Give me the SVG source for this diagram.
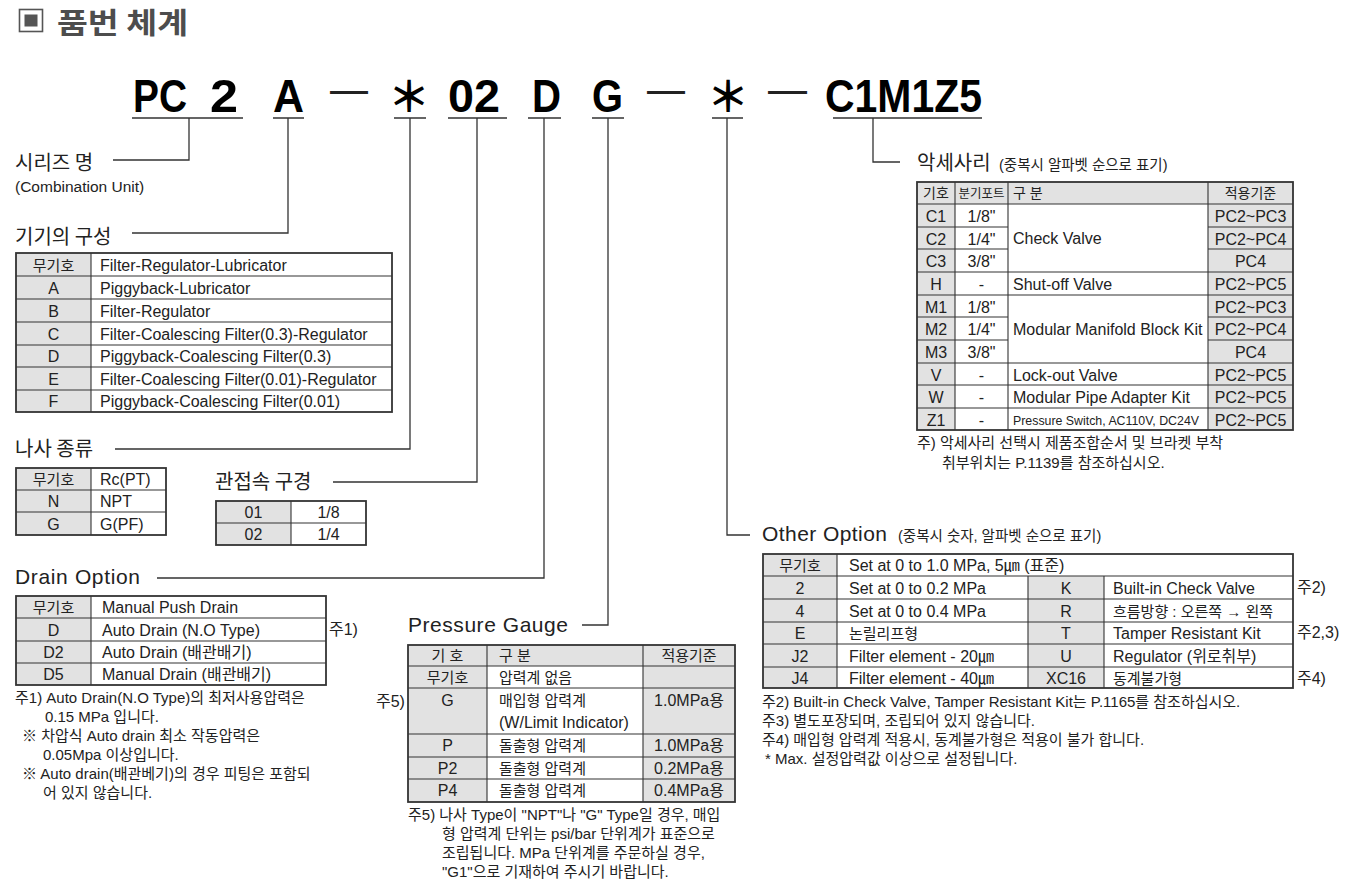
<svg xmlns="http://www.w3.org/2000/svg" width="1367" height="896" viewBox="0 0 1367 896">
<style>
text{font-family:"Liberation Sans","Noto Sans CJK KR",sans-serif;fill:#222}
.code{font-size:47px;font-weight:bold;fill:#000}
.dash{font-size:47px;font-weight:normal;fill:#222}
.ast{font-family:"Noto Sans CJK KR",sans-serif;font-size:42px;font-weight:bold;fill:#000;text-anchor:middle}
.h{font-size:20px;font-family:"Noto Sans CJK KR",sans-serif}
.he{font-size:21px}
.s{font-size:15px}
.t{font-size:16px}
.tk{font-size:15px}
.c{text-anchor:middle}
.g{fill:#e2e2e2}
.box{fill:none;stroke:#333;stroke-width:1.8}
.ln{fill:none;stroke:#333;stroke-width:1.1}
</style>
<rect width="1367" height="896" fill="#fff"/>

<g id="title">
<rect x="19.5" y="9.5" width="23" height="22" fill="#fff" stroke="#555" stroke-width="1.6"/>
<rect x="24.5" y="14.5" width="13" height="12" fill="#555"/>
<text x="57" y="34" textLength="131" lengthAdjust="spacingAndGlyphs" style="font-family:'Noto Sans CJK KR',sans-serif;font-size:29px;font-weight:bold;fill:#4d4d4d">품번 체계</text>
</g>

<g id="code">
<text class="code" x="133" y="112" textLength="54" lengthAdjust="spacingAndGlyphs">PC</text>
<text class="code" x="210" y="112" textLength="28" lengthAdjust="spacingAndGlyphs">2</text>
<text class="code" x="273" y="112" textLength="31" lengthAdjust="spacingAndGlyphs">A</text>
<text class="dash" x="330" y="104" textLength="38" lengthAdjust="spacingAndGlyphs">—</text>
<text class="ast" x="409" y="112">＊</text>
<text class="code" x="448" y="112" textLength="52" lengthAdjust="spacingAndGlyphs">02</text>
<text class="code" x="532" y="112" textLength="29" lengthAdjust="spacingAndGlyphs">D</text>
<text class="code" x="592" y="112" textLength="31" lengthAdjust="spacingAndGlyphs">G</text>
<text class="dash" x="647" y="104" textLength="38" lengthAdjust="spacingAndGlyphs">—</text>
<text class="ast" x="728" y="112">＊</text>
<text class="dash" x="768" y="104" textLength="39" lengthAdjust="spacingAndGlyphs">—</text>
<text class="code" x="825" y="112" textLength="157" lengthAdjust="spacingAndGlyphs">C1M1Z5</text>
</g>

<g id="connectors" fill="none" stroke="#333" stroke-width="1.3">
<path d="M132 118H243M189 118V160H113"/>
<path d="M273 118H304M288 118V233H132"/>
<path d="M394 118H426M410 118V449H115"/>
<path d="M448 118H507M477 118V482H333"/>
<path d="M528 118H561M544 118V578H157"/>
<path d="M592 118H624M608 118V625H582"/>
<path d="M712 118H743M727 118V535H750"/>
<path d="M833 118H982M873 118V162H900"/>
</g>

<g id="series">
<text class="h" x="15" y="170">시리즈 명</text>
<text x="15" y="192" style="font-size:15.5px">(Combination Unit)</text>
</g>

<g id="config">
<text class="h" x="15" y="244">기기의 구성</text>
<rect class="g" x="16" y="253" width="75" height="159"/>
<path class="ln" d="M16 276H392M16 299H392M16 322H392M16 345H392M16 367H392M16 390H392M91 253V412"/>
<rect class="box" x="16" y="253" width="376" height="159"/>
<g class="t">
<text class="c tk" x="53.5" y="270.5">무기호</text><text x="100" y="270.5">Filter-Regulator-Lubricator</text>
<text class="c" x="53.5" y="293.5">A</text><text x="100" y="293.5">Piggyback-Lubricator</text>
<text class="c" x="53.5" y="316.5">B</text><text x="100" y="316.5">Filter-Regulator</text>
<text class="c" x="53.5" y="339.5">C</text><text x="100" y="339.5">Filter-Coalescing Filter(0.3)-Regulator</text>
<text class="c" x="53.5" y="362">D</text><text x="100" y="362">Piggyback-Coalescing Filter(0.3)</text>
<text class="c" x="53.5" y="384.5">E</text><text x="100" y="384.5">Filter-Coalescing Filter(0.01)-Regulator</text>
<text class="c" x="53.5" y="407">F</text><text x="100" y="407">Piggyback-Coalescing Filter(0.01)</text>
</g>
</g>

<g id="thread">
<text class="h" x="15" y="456">나사 종류</text>
<rect class="g" x="16" y="468" width="75" height="67"/>
<path class="ln" d="M16 490H166M16 512H166M91 468V535"/>
<rect class="box" x="16" y="468" width="150" height="67"/>
<g class="t">
<text class="c tk" x="53.5" y="485">무기호</text><text x="100" y="485">Rc(PT)</text>
<text class="c" x="53.5" y="507">N</text><text x="100" y="507">NPT</text>
<text class="c" x="53.5" y="529.5">G</text><text x="100" y="529.5">G(PF)</text>
</g>
</g>

<g id="port">
<text class="h" x="215" y="489">관접속 구경</text>
<rect class="g" x="216" y="501" width="75" height="44"/>
<path class="ln" d="M216 523H366M291 501V545"/>
<rect class="box" x="216" y="501" width="150" height="44"/>
<g class="t">
<text class="c" x="253.5" y="518">01</text><text class="c" x="328.5" y="518">1/8</text>
<text class="c" x="253.5" y="540">02</text><text class="c" x="328.5" y="540">1/4</text>
</g>
</g>

<g id="drain">
<text class="he" x="15" y="584" textLength="125" lengthAdjust="spacing">Drain Option</text>
<rect class="g" x="16" y="596" width="75" height="89"/>
<path class="ln" d="M16 618H326M16 641H326M16 663H326M91 596V685"/>
<rect class="box" x="16" y="596" width="310" height="89"/>
<g class="t">
<text class="c tk" x="53.5" y="613">무기호</text><text x="102" y="613">Manual Push Drain</text>
<text class="c" x="53.5" y="635.5">D</text><text x="102" y="635.5">Auto Drain (N.O Type)</text>
<text class="c" x="53.5" y="658">D2</text><text x="102" y="658">Auto Drain (배관배기)</text>
<text class="c" x="53.5" y="680">D5</text><text x="102" y="680">Manual Drain (배관배기)</text>
</g>
<text class="t" x="329" y="635">주1)</text>
<g class="s">
<text x="15" y="703">주1) Auto Drain(N.O Type)의 최저사용압력은</text>
<text x="45" y="722">0.15 MPa 입니다.</text>
<text x="22" y="741">※ 차압식 Auto drain 최소 작동압력은</text>
<text x="43" y="760">0.05Mpa 이상입니다.</text>
<text x="22" y="779">※ Auto drain(배관베기)의 경우 피팅은 포함되</text>
<text x="43" y="798">어 있지 않습니다.</text>
</g>
</g>

<g id="gauge">
<text class="he" x="408" y="632" textLength="160" lengthAdjust="spacing">Pressure Gauge</text>
<rect class="g" x="408" y="645" width="327" height="21"/>
<rect class="g" x="408" y="666" width="79" height="136"/>
<rect class="g" x="643" y="666" width="92" height="136"/>
<path class="ln" d="M408 666H735M408 688H735M408 734H735M408 757H735M408 779H735M487 645V802M643 645V802"/>
<rect class="box" x="408" y="645" width="327" height="157"/>
<g class="t">
<text class="c tk" x="447.5" y="661">기 호</text><text class="tk" x="499" y="661">구 분</text><text class="c tk" x="689" y="661">적용기준</text>
<text class="c tk" x="447.5" y="683">무기호</text><text class="tk" x="499" y="683">압력계 없음</text>
<text class="c" x="447.5" y="706">G</text><text class="tk" x="499" y="706">매입형 압력계</text><text class="c" x="689" y="706">1.0MPa용</text>
<text x="499" y="728">(W/Limit Indicator)</text>
<text class="c" x="447.5" y="751">P</text><text class="tk" x="499" y="751">돌출형 압력계</text><text class="c" x="689" y="751">1.0MPa용</text>
<text class="c" x="447.5" y="774">P2</text><text class="tk" x="499" y="774">돌출형 압력계</text><text class="c" x="689" y="774">0.2MPa용</text>
<text class="c" x="447.5" y="796">P4</text><text class="tk" x="499" y="796">돌출형 압력계</text><text class="c" x="689" y="796">0.4MPa용</text>
</g>
<text class="t" x="376" y="707">주5)</text>
<g class="s">
<text x="408" y="820">주5) 나사 Type이 "NPT"나 "G" Type일 경우, 매입</text>
<text x="442" y="839">형 압력계 단위는 psi/bar 단위계가 표준으로</text>
<text x="442" y="858">조립됩니다. MPa 단위계를 주문하실 경우,</text>
<text x="442" y="877">"G1"으로 기재하여 주시기 바랍니다.</text>
</g>
</g>

<g id="accessory">
<text class="h" x="917" y="170">악세사리</text>
<text x="999" y="170" style="font-size:14.5px">(중복시 알파벳 순으로 표기)</text>
<rect class="g" x="917" y="182" width="376" height="22"/>
<rect class="g" x="917" y="204" width="38" height="226"/>
<rect class="g" x="1208" y="204" width="85" height="226"/>
<path class="ln" d="M917 204H1293M917 227H1008M1208 227H1293M917 249H1008M1208 249H1293M917 272H1293M917 295H1293M917 317H1008M1208 317H1293M917 340H1008M1208 340H1293M917 363H1293M917 385H1293M917 408H1293M955 182V430M1008 182V430M1208 182V430"/>
<rect class="box" x="917" y="182" width="376" height="248"/>
<g class="t">
<text class="c" x="936" y="198" style="font-size:14px">기호</text>
<text class="c" x="981.5" y="198" style="font-size:12.5px">분기포트</text>
<text x="1013" y="198" style="font-size:14px">구 분</text>
<text class="c" x="1250.5" y="198" style="font-size:14px">적용기준</text>
<text class="c" x="936" y="221.5">C1</text><text class="c" x="981.5" y="221.5">1/8"</text><text class="c" x="1250.5" y="221.5">PC2~PC3</text>
<text class="c" x="936" y="244.5">C2</text><text class="c" x="981.5" y="244.5">1/4"</text><text class="c" x="1250.5" y="244.5">PC2~PC4</text>
<text class="c" x="936" y="266.5">C3</text><text class="c" x="981.5" y="266.5">3/8"</text><text class="c" x="1250.5" y="266.5">PC4</text>
<text x="1013" y="244">Check Valve</text>
<text class="c" x="936" y="289.5">H</text><text class="c" x="981.5" y="289.5">-</text><text x="1013" y="289.5">Shut-off Valve</text><text class="c" x="1250.5" y="289.5">PC2~PC5</text>
<text class="c" x="936" y="312.5">M1</text><text class="c" x="981.5" y="312.5">1/8"</text><text class="c" x="1250.5" y="312.5">PC2~PC3</text>
<text class="c" x="936" y="334.5">M2</text><text class="c" x="981.5" y="334.5">1/4"</text><text class="c" x="1250.5" y="334.5">PC2~PC4</text>
<text class="c" x="936" y="357.5">M3</text><text class="c" x="981.5" y="357.5">3/8"</text><text class="c" x="1250.5" y="357.5">PC4</text>
<text x="1013" y="335">Modular Manifold Block Kit</text>
<text class="c" x="936" y="380.5">V</text><text class="c" x="981.5" y="380.5">-</text><text x="1013" y="380.5">Lock-out Valve</text><text class="c" x="1250.5" y="380.5">PC2~PC5</text>
<text class="c" x="936" y="402.5">W</text><text class="c" x="981.5" y="402.5">-</text><text x="1013" y="402.5">Modular Pipe Adapter Kit</text><text class="c" x="1250.5" y="402.5">PC2~PC5</text>
<text class="c" x="936" y="425.5">Z1</text><text class="c" x="981.5" y="425.5">-</text><text x="1013" y="425" style="font-size:13.5px" textLength="186" lengthAdjust="spacingAndGlyphs">Pressure Switch, AC110V, DC24V</text><text class="c" x="1250.5" y="425.5">PC2~PC5</text>
</g>
<g class="s">
<text x="917" y="448">주) 악세사리 선택시 제품조합순서 및 브라켓 부착</text>
<text x="942" y="468">취부위치는 P.1139를 참조하십시오.</text>
</g>
</g>

<g id="other">
<text class="he" x="762" y="541" textLength="125" lengthAdjust="spacing">Other Option</text>
<text x="898" y="541" style="font-size:14.5px">(중복시 숫자, 알파벳 순으로 표기)</text>
<rect class="g" x="763" y="554" width="74" height="134"/>
<rect class="g" x="1028" y="576" width="76" height="112"/>
<path class="ln" d="M763 576H1293M763 599H1293M763 622H1293M763 644H1293M763 667H1293M837 554V688M1028 576V688M1104 576V688"/>
<rect class="box" x="763" y="554" width="530" height="134"/>
<g class="t">
<text class="c tk" x="800" y="571">무기호</text><text x="849" y="571">Set at 0 to 1.0 MPa, 5㎛ (표준)</text>
<text class="c" x="800" y="593.5">2</text><text x="849" y="593.5">Set at 0 to 0.2 MPa</text><text class="c" x="1066" y="593.5">K</text><text x="1113" y="593.5">Built-in Check Valve</text>
<text class="c" x="800" y="616.5">4</text><text x="849" y="616.5">Set at 0 to 0.4 MPa</text><text class="c" x="1066" y="616.5">R</text><text class="tk" x="1113" y="616.5">흐름방향 : 오른쪽 → 왼쪽</text>
<text class="c" x="800" y="639">E</text><text class="tk" x="849" y="639">논릴리프형</text><text class="c" x="1066" y="639">T</text><text x="1113" y="639">Tamper Resistant Kit</text>
<text class="c" x="800" y="661.5">J2</text><text x="849" y="661.5">Filter element - 20㎛</text><text class="c" x="1066" y="661.5">U</text><text x="1113" y="661.5">Regulator (위로취부)</text>
<text class="c" x="800" y="683.5">J4</text><text x="849" y="683.5">Filter element - 40㎛</text><text class="c" x="1066" y="683.5">XC16</text><text class="tk" x="1113" y="683.5">동계불가형</text>
<text x="1297" y="593">주2)</text>
<text x="1297" y="638">주2,3)</text>
<text x="1297" y="684">주4)</text>
</g>
<g class="s">
<text x="762" y="707">주2) Built-in Check Valve, Tamper Resistant Kit는 P.1165를 참조하십시오.</text>
<text x="762" y="726">주3) 별도포장되며, 조립되어 있지 않습니다.</text>
<text x="762" y="745">주4) 매입형 압력계 적용시, 동계불가형은 적용이 불가 합니다.</text>
<text x="765" y="764">* Max. 설정압력값 이상으로 설정됩니다.</text>
</g>
</g>
</svg>
